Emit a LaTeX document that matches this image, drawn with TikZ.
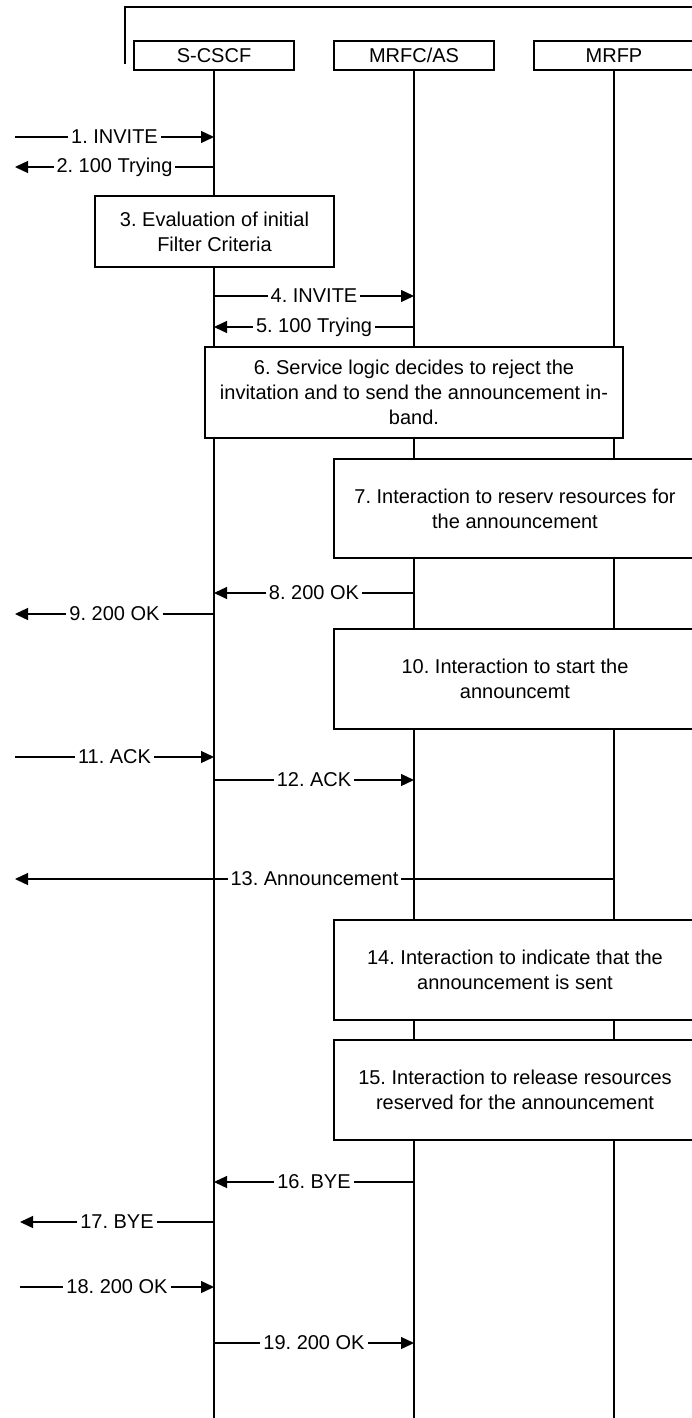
\documentclass[tikz,border=0pt]{standalone}
\usepackage{fontspec}
\setmainfont{Liberation Sans}
\usetikzlibrary{arrows.meta,positioning}
\frenchspacing

\begin{document}
\begin{tikzpicture}[x=1pt,y=-1pt,line width=1.3pt,
  font=\fontsize{20}{25}\selectfont,
  entity/.style={draw,fill=white,minimum width=160pt,minimum height=29pt,inner sep=0pt},
  action/.style={draw,fill=white,align=center,inner sep=0pt},
  interact/.style={action,minimum width=362pt,minimum height=100pt},
  msg/.style={-{Triangle[length=13pt,width=12pt]}},
  lbl/.style={fill=white,inner sep=3pt}]
\useasboundingbox (0,0) rectangle (692,1418);

% frame round the network
\draw (125,64) -- (125,7) -- (700,7);

\node[entity] (scscf) at (214,55.5) {S-CSCF};
\node[entity] (mrfc) at (414,55.5) {MRFC/AS};
\node[entity] (mrfp) at (614,55.5) {MRFP};

\coordinate (bottom) at (0,1418);
\coordinate (ue) at (15,0);
\coordinate (ue2) at (20,0);

% lifelines
\draw (scscf.south) -- (scscf |- bottom);
\draw (mrfc.south) -- (mrfc |- bottom);
\draw (mrfp.south) -- (mrfp |- bottom);

\draw[msg] (ue |- 0,137) -- node[lbl] {1. INVITE} (scscf |- 0,137);
\draw[msg] (scscf |- 0,167) -- node[lbl] {2. 100 Trying} (ue |- 0,167);

\node[action,minimum width=239pt,minimum height=71pt] (ifc) at (214.5,231.5)
  {3. Evaluation of initial\\Filter Criteria};

\draw[msg] (scscf |- 0,296) -- node[lbl] {4. INVITE} (mrfc |- 0,296);
\draw[msg] (mrfc |- 0,327) -- node[lbl] {5. 100 Trying} (scscf |- 0,327);

\node[action,minimum width=418pt,minimum height=91pt] (logic) at (414,392.5)
  {6. Service logic decides to reject the\\invitation and to send the announcement in-\\band.};

\node[interact,minimum height=99pt] (reserve) at (515,508.5)
  {7. Interaction to reserv resources for\\the announcement};

\draw[msg] (mrfc |- 0,593) -- node[lbl] {8. 200 OK} (scscf |- 0,593);
\draw[msg] (scscf |- 0,614) -- node[lbl] {9. 200 OK} (ue |- 0,614);

\node[interact] (start) at (515,679) {10. Interaction to start the\\announcemt};

\draw[msg] (ue |- 0,757) -- node[lbl] {11. ACK} (scscf |- 0,757);
\draw[msg] (scscf |- 0,780) -- node[lbl] {12. ACK} (mrfc |- 0,780);

\draw[msg] (mrfp |- 0,879) -- node[lbl] {13. Announcement} (ue |- 0,879);

\node[interact] (sent) at (515,970) {14. Interaction to indicate that the\\announcement is sent};
\node[interact] (release) at (515,1090) {15. Interaction to release resources\\reserved for the announcement};

\draw[msg] (mrfc |- 0,1182) -- node[lbl] {16. BYE} (scscf |- 0,1182);
\draw[msg] (scscf |- 0,1222) -- node[lbl] {17. BYE} (ue2 |- 0,1222);
\draw[msg] (ue2 |- 0,1287) -- node[lbl] {18. 200 OK} (scscf |- 0,1287);
\draw[msg] (scscf |- 0,1343) -- node[lbl] {19. 200 OK} (mrfc |- 0,1343);

\end{tikzpicture}
\end{document}
